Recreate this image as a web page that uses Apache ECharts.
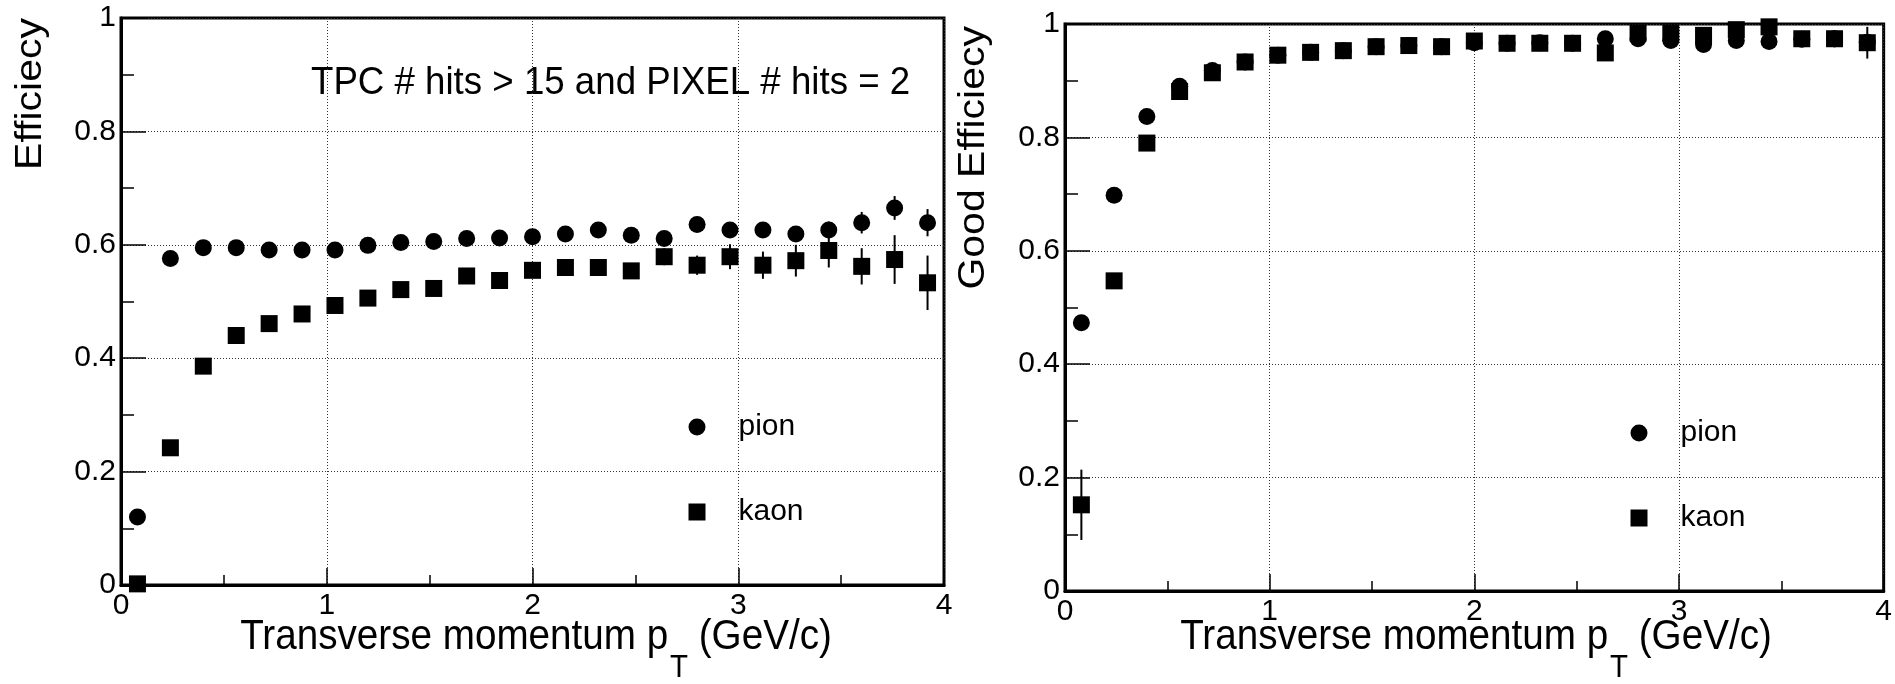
<!DOCTYPE html>
<html>
<head>
<meta charset="utf-8">
<title>Tracking efficiency vs transverse momentum</title>
<script src="https://cdn.jsdelivr.net/npm/echarts@6/dist/echarts.min.js"></script>
<style>
  html, body { margin: 0; padding: 0; background: #fff; }
  #chart { width: 1895px; height: 684px; }
</style>
</head>
<body>
<div id="chart"></div>
<script>
// pT bin centres (GeV/c)
const ptBins = [0.08, 0.24, 0.40, 0.56, 0.72, 0.88, 1.04, 1.20, 1.36, 1.52, 1.68, 1.84, 2.00,
                2.16, 2.32, 2.48, 2.64, 2.80, 2.96, 3.12, 3.28, 3.44, 3.60, 3.76, 3.92];

// Left panel: efficiency (TPC # hits > 15 and PIXEL # hits = 2)
const effPion = [0.120, 0.576, 0.595, 0.595, 0.591, 0.591, 0.591, 0.599, 0.604, 0.606, 0.611, 0.612, 0.614,
                 0.619, 0.626, 0.617, 0.611, 0.636, 0.626, 0.626, 0.619, 0.626, 0.639, 0.665, 0.639];
const effPionErr = [0.004, 0.004, 0.003, 0.003, 0.003, 0.003, 0.003, 0.003, 0.003, 0.004, 0.004, 0.004, 0.005,
                    0.005, 0.005, 0.006, 0.007, 0.008, 0.010, 0.010, 0.011, 0.015, 0.019, 0.021, 0.024];
const effKaon = [0.002, 0.242, 0.386, 0.440, 0.461, 0.478, 0.493, 0.506, 0.521, 0.523, 0.545, 0.537, 0.555,
                 0.560, 0.560, 0.554, 0.579, 0.564, 0.579, 0.564, 0.572, 0.590, 0.562, 0.574, 0.533];
const effKaonErr = [0.004, 0.005, 0.005, 0.005, 0.005, 0.005, 0.005, 0.005, 0.005, 0.005, 0.006, 0.006, 0.007,
                    0.007, 0.008, 0.010, 0.015, 0.017, 0.022, 0.024, 0.028, 0.030, 0.032, 0.043, 0.048];

// Right panel: good-track efficiency
const goodPion = [0.473, 0.698, 0.837, 0.890, 0.918, 0.933, 0.945, 0.950, 0.953, 0.960, 0.962, 0.960, 0.967,
                  0.966, 0.967, 0.966, 0.974, 0.974, 0.971, 0.964, 0.971, 0.969, 0.973, 0.974, 0.968];
const goodPionErr = [0.006, 0.005, 0.004, 0.003, 0.003, 0.003, 0.003, 0.003, 0.003, 0.003, 0.003, 0.003, 0.003,
                     0.003, 0.003, 0.003, 0.004, 0.004, 0.004, 0.004, 0.005, 0.005, 0.006, 0.006, 0.007];
const goodKaon = [0.152, 0.547, 0.790, 0.881, 0.914, 0.933, 0.945, 0.950, 0.953, 0.960, 0.962, 0.960, 0.970,
                  0.966, 0.966, 0.966, 0.949, 0.984, 0.984, 0.980, 0.990, 0.995, 0.974, 0.974, 0.967];
const goodKaonErr = [0.062, 0.012, 0.008, 0.006, 0.005, 0.005, 0.004, 0.004, 0.004, 0.004, 0.004, 0.004, 0.005,
                     0.005, 0.005, 0.005, 0.008, 0.006, 0.006, 0.006, 0.006, 0.006, 0.010, 0.015, 0.028];

// Axis ranges and tick labels
const xTicks = [0, 1, 2, 3, 4];
const yTicks = [0, 0.2, 0.4, 0.6, 0.8, 1];

const FONT = "'Liberation Sans', Arial, Helvetica, sans-serif";

const chart = echarts.init(document.getElementById('chart'), null, { renderer: 'canvas' });

function points(vals, errs) {
  return ptBins.map((x, i) => [x, vals[i], errs[i]]);
}

function errorBars(idx, vals, errs) {
  return {
    type: 'custom',
    xAxisIndex: idx,
    yAxisIndex: idx,
    z: 2,
    silent: true,
    encode: { x: 0, y: 1 },
    data: points(vals, errs),
    renderItem: function (params, api) {
      const x = api.value(0), y = api.value(1), e = api.value(2);
      const p1 = api.coord([x, y - e]);
      const p2 = api.coord([x, y + e]);
      return {
        type: 'line',
        shape: { x1: p1[0], y1: p1[1], x2: p2[0], y2: p2[1] },
        style: { stroke: '#000', lineWidth: 2 }
      };
    }
  };
}

function markers(idx, name, symbol, vals, errs) {
  return {
    type: 'scatter',
    name: name,
    xAxisIndex: idx,
    yAxisIndex: idx,
    z: 3,
    symbol: symbol,
    symbolSize: 17,
    itemStyle: { color: '#000', opacity: 1 },
    emphasis: { disabled: true },
    data: points(vals, errs)
  };
}

function xAxisDef(idx) {
  return {
    type: 'value',
    gridIndex: idx,
    min: xTicks[0],
    max: xTicks[xTicks.length - 1],
    interval: 1,
    axisLine: { show: true, onZero: false, lineStyle: { color: '#000', width: 3 } },
    axisTick: { show: true, inside: true, length: 17, lineStyle: { color: '#000', width: 1.5 } },
    minorTick: { show: true, splitNumber: 2, length: 10, lineStyle: { color: '#000', width: 1.5 } },
    splitLine: { show: true, lineStyle: { color: '#333', width: 1, type: [1, 2] } },
    axisLabel: {
      show: true, color: '#000', fontSize: 30, fontFamily: FONT, margin: 6,
      showMinLabel: true, showMaxLabel: true,
      formatter: v => String(v)
    }
  };
}

function yAxisDef(idx) {
  return {
    type: 'value',
    gridIndex: idx,
    min: yTicks[0],
    max: yTicks[yTicks.length - 1],
    interval: 0.2,
    axisLine: { show: true, onZero: false, lineStyle: { color: '#000', width: 3 } },
    axisTick: { show: true, inside: true, length: 25, lineStyle: { color: '#000', width: 1.5 } },
    minorTick: { show: true, splitNumber: 2, length: 13, lineStyle: { color: '#000', width: 1.5 } },
    splitLine: { show: true, lineStyle: { color: '#333', width: 1, type: [1, 2] } },
    axisLabel: {
      show: true, color: '#000', fontSize: 30, fontFamily: FONT, margin: 5,
      padding: [8, 0, 0, 0],
      showMinLabel: true, showMaxLabel: true,
      formatter: v => String(Math.round(v * 10) / 10)
    }
  };
}

function legendDef(left, top) {
  return {
    show: true,
    orient: 'vertical',
    left: left,
    top: top,
    itemWidth: 17,
    itemHeight: 17,
    itemGap: 51,
    selectedMode: false,
    data: [{ name: 'pion', icon: 'circle' }, { name: 'kaon', icon: 'rect' }],
    itemStyle: { color: '#000', opacity: 1 },
    textStyle: { color: '#000', fontSize: 30, fontFamily: FONT, lineHeight: 34, padding: [0, 0, 0, 28] }
  };
}

// Axis title with subscripted T in p_T
function xTitle(cx) {
  return {
    type: 'text',
    x: cx, y: 616, scaleX: 0.92, silent: true,
    style: {
      text: '{m|Transverse momentum p}{s|T}{m| (GeV/c)}',
      align: 'center', verticalAlign: 'top', fill: '#000',
      rich: {
        m: { fontSize: 42, fontFamily: FONT, lineHeight: 50, verticalAlign: 'top', fill: '#000' },
        s: { fontSize: 32, fontFamily: FONT, lineHeight: 36, padding: [36, 0, 0, 2], verticalAlign: 'top', fill: '#000' }
      }
    }
  };
}

function yTitle(x, y, text) {
  return {
    type: 'text',
    x: x, y: y, rotation: Math.PI / 2, scaleY: 0.9, silent: true,
    style: { text: text, fontSize: 41, fontFamily: FONT, fill: '#000', align: 'right', verticalAlign: 'middle' }
  };
}

const option = {
  backgroundColor: '#fff',
  animation: false,
  grid: [
    { left: 121, top: 18, width: 823, height: 567, show: true, borderColor: '#000', borderWidth: 3, backgroundColor: 'transparent' },
    { left: 1065, top: 24, width: 820, height: 567, show: true, borderColor: '#000', borderWidth: 3, backgroundColor: 'transparent' }
  ],
  xAxis: [xAxisDef(0), xAxisDef(1)],
  yAxis: [yAxisDef(0), yAxisDef(1)],
  legend: [legendDef(683.5, 405), legendDef(1625.5, 411)],
  series: [
    errorBars(0, effPion, effPionErr),
    errorBars(0, effKaon, effKaonErr),
    markers(0, 'pion', 'circle', effPion, effPionErr),
    markers(0, 'kaon', 'rect', effKaon, effKaonErr),
    errorBars(1, goodPion, goodPionErr),
    errorBars(1, goodKaon, goodKaonErr),
    markers(1, 'pion', 'circle', goodPion, goodPionErr),
    markers(1, 'kaon', 'rect', goodKaon, goodKaonErr)
  ],
  graphic: [
    {
      type: 'text', x: 311, y: 83, scaleX: 0.94, silent: true,
      style: { text: 'TPC # hits > 15 and PIXEL # hits = 2', fontSize: 39, fontFamily: FONT, fill: '#000', align: 'left', verticalAlign: 'middle' }
    },
    xTitle(536),
    xTitle(1476),
    yTitle(31, 18, 'Efficiecy'),
    yTitle(974, 26, 'Good Efficiecy')
  ]
};

chart.setOption(option);
</script>
</body>
</html>
